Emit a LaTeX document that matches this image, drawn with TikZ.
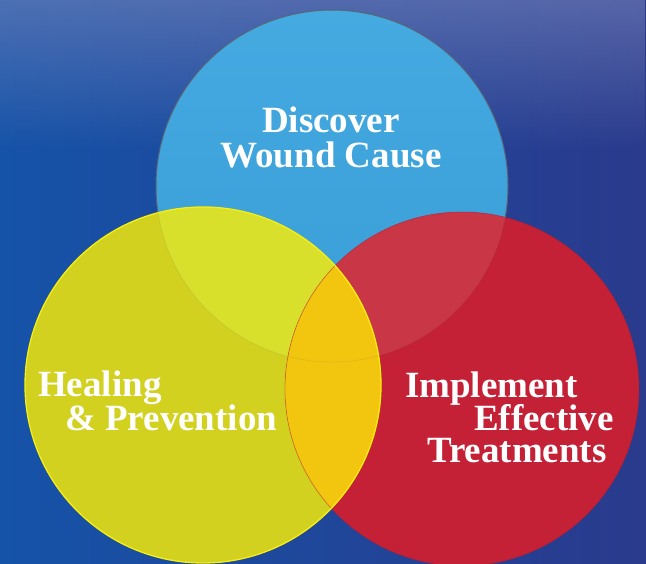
\documentclass[tikz,border=0pt]{standalone}
\usepackage{fontspec}
\setmainfont{Liberation Serif}
\usetikzlibrary{fadings}
\definecolor{bgL}{HTML}{1553A8}
\definecolor{bgR}{HTML}{2A3A8C}
\definecolor{bgTop}{HTML}{7C88BE}
\definecolor{blueT}{HTML}{44AAE0}
\definecolor{blueB}{HTML}{3A9DD7}
\definecolor{blueEdge}{HTML}{5A6478}
\definecolor{yellowC}{HTML}{D2D11F}
\definecolor{yellowEdge}{HTML}{F8EE10}
\definecolor{ybC}{HTML}{D8E02B}
\definecolor{redC}{HTML}{C42036}
\definecolor{redEdge}{HTML}{B01C30}
\definecolor{rbC}{HTML}{C93646}
\definecolor{yrC}{HTML}{F2C60F}
\tikzfading[name=topfade, top color=transparent!0, bottom color=transparent!100]
\tikzset{
  lbl/.style={text=white, inner sep=0pt, text height=24pt, text depth=5pt,
    font=\fontsize{37}{37}\selectfont\bfseries},
}
\begin{document}
\begin{tikzpicture}[x=1pt,y=-1pt]
\useasboundingbox (0,0) rectangle (646,564);
% background
\shade[left color=bgL, right color=bgR] (0,0) rectangle (646,564);
\fill[bgTop, opacity=0.55, path fading=topfade] (0,0) rectangle (646,150);
% centres
\coordinate (B) at (332,186);
\coordinate (Y) at (203,385);
\coordinate (R) at (462,389);
% blue circle
\shade[top color=blueT, bottom color=blueB] (B) circle (176);
\draw[blueEdge, line width=1pt] (B) circle (176);
% yellow circle
\fill[yellowC] (Y) circle (178);
\begin{scope}
  \clip (B) circle (176);
  \fill[ybC] (Y) circle (178);
\end{scope}
% red circle
\fill[redC] (R) circle (177);
\begin{scope}
  \clip (B) circle (176);
  \fill[rbC] (R) circle (177);
\end{scope}
\begin{scope}
  \clip (Y) circle (178);
  \fill[yrC] (R) circle (177);
\end{scope}
% faint seams
\draw[blueEdge, opacity=0.12, line width=0.8pt] (B) circle (176);
\draw[redEdge, opacity=0.35, line width=0.8pt] (R) circle (177);
\draw[yellowEdge, line width=1.3pt] (Y) circle (178);
% labels
\node[lbl, anchor=base] (t1) at (331,133) {Discover};
\node[lbl, anchor=base] (t2) at (331,168) {Wound Cause};
\node[lbl, anchor=base west] (t3) at (38,396) {Healing};
\node[lbl, anchor=base west] (t4) at (65,430) {\& Prevention};
\node[lbl, anchor=base west] (t5) at (405,398) {Implement};
\node[lbl, anchor=base west] (t6) at (474,431) {Effective};
\node[lbl, anchor=base west] (t7) at (427,462) {Treatments};
\end{tikzpicture}
\end{document}
